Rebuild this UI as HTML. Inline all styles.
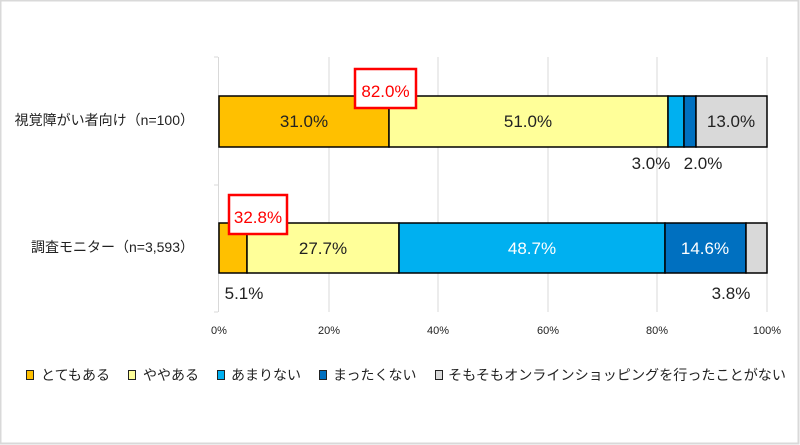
<!DOCTYPE html>
<html><head><meta charset="utf-8"><style>
html,body{margin:0;padding:0;background:#fff}
svg{display:block}
text{font-family:"Liberation Sans","Noto Sans CJK JP",sans-serif}
</style></head><body>
<svg width="800" height="445" viewBox="0 0 800 445" xmlns="http://www.w3.org/2000/svg">
<rect x="0.5" y="0.5" width="798" height="443" fill="#fff" stroke="#d9d9d9" stroke-width="2"/>
<g stroke="#d9d9d9" stroke-width="1">
<line x1="329" y1="57" x2="329" y2="312"/><line x1="438" y1="57" x2="438" y2="312"/>
<line x1="548" y1="57" x2="548" y2="312"/><line x1="657" y1="57" x2="657" y2="312"/>
<line x1="767" y1="57" x2="767" y2="312"/>
<line x1="218.5" y1="57" x2="218.5" y2="312"/>
<line x1="214" y1="57" x2="218" y2="57"/><line x1="214" y1="185" x2="218" y2="185"/><line x1="214" y1="312" x2="218" y2="312"/>
</g>
<g stroke="#000" stroke-width="1.5">
<rect x="219" y="96" width="170" height="51" fill="#ffc000"/>
<rect x="389" y="96" width="279" height="51" fill="#ffff99"/>
<rect x="668" y="96" width="16" height="51" fill="#00b0f0"/>
<rect x="684" y="96" width="12" height="51" fill="#0070c0"/>
<rect x="696" y="96" width="71" height="51" fill="#d9d9d9"/>
<rect x="219" y="223" width="28" height="50" fill="#ffc000"/>
<rect x="247" y="223" width="152" height="50" fill="#ffff99"/>
<rect x="399" y="223" width="266" height="50" fill="#00b0f0"/>
<rect x="665" y="223" width="81" height="50" fill="#0070c0"/>
<rect x="746" y="223" width="21" height="50" fill="#d9d9d9"/>
</g>
<g font-size="17" fill="#222" text-anchor="middle">
<text x="304" y="127">31.0%</text>
<text x="528" y="127">51.0%</text>
<text x="731" y="127">13.0%</text>
<text x="651" y="169">3.0%</text>
<text x="703" y="169">2.0%</text>
<text x="323" y="254">27.7%</text>
<text x="532" y="254" fill="#fff">48.7%</text>
<text x="705" y="254" fill="#fff">14.6%</text>
<text x="244" y="299">5.1%</text>
<text x="731" y="299">3.8%</text>
</g>
<rect x="355" y="69" width="61" height="39" fill="#fff" stroke="#ff0000" stroke-width="2.5"/>
<text x="385.5" y="97" font-size="17" fill="#ff0000" text-anchor="middle">82.0%</text>
<rect x="229" y="195" width="58" height="39" fill="#fff" stroke="#ff0000" stroke-width="2.5"/>
<text x="258" y="223" font-size="17" fill="#ff0000" text-anchor="middle">32.8%</text>
<g font-size="14" fill="#222" text-anchor="end">
<text x="194" y="125">視覚障がい者向け（n=100）</text>
<text x="194" y="252">調査モニター（n=3,593）</text>
</g>
<g font-size="11" fill="#222" text-anchor="middle">
<text x="219" y="334">0%</text><text x="329" y="334">20%</text><text x="438" y="334">40%</text>
<text x="548" y="334">60%</text><text x="657" y="334">80%</text><text x="767" y="334">100%</text>
</g>
<g stroke="#222" stroke-width="1">
<rect x="26.5" y="370.5" width="7" height="9" fill="#ffc000"/>
<rect x="128.5" y="370.5" width="7" height="9" fill="#ffff99"/>
<rect x="217.5" y="370.5" width="7" height="9" fill="#00b0f0"/>
<rect x="319.5" y="370.5" width="7" height="9" fill="#0070c0"/>
<rect x="435.5" y="370.5" width="7" height="9" fill="#d9d9d9"/>
</g>
<g font-size="14" fill="#222">
<text x="41" y="380" textLength="69" lengthAdjust="spacingAndGlyphs">とてもある</text>
<text x="143" y="380">ややある</text>
<text x="231" y="380">あまりない</text>
<text x="333" y="380">まったくない</text>
<text x="448" y="380" textLength="338" lengthAdjust="spacingAndGlyphs">そもそもオンラインショッピングを行ったことがない</text>
</g>
</svg>
</body></html>
